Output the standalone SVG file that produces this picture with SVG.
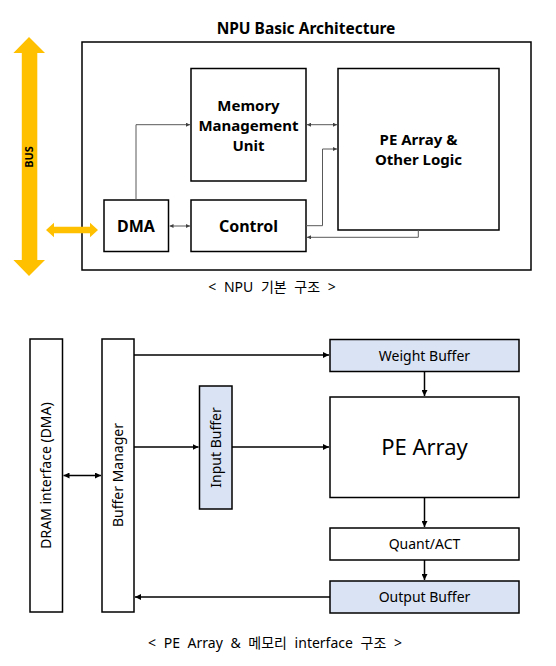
<svg xmlns="http://www.w3.org/2000/svg" width="556" height="666" viewBox="0 0 556 666">
<style>
.box{fill:#fff;stroke:#000;stroke-width:1.5}
.blue{fill:#DAE3F3;stroke:#000;stroke-width:1.5}
.g{fill:none;stroke:#595959;stroke-width:1}
.k{fill:none;stroke:#000;stroke-width:1.5}
.t{font-family:"Noto Sans","Noto Sans CJK KR",sans-serif;fill:#000}
.b{font-weight:bold}
.cap{font-size:14px;word-spacing:4px}
</style>
<defs>
<marker id="ga" viewBox="0 0 6 6" refX="6" refY="3" markerWidth="4" markerHeight="4" orient="auto-start-reverse" markerUnits="userSpaceOnUse"><path d="M0,0L6,3L0,6z" fill="#404040"/></marker>
<marker id="ka" viewBox="0 0 6 6" refX="6" refY="3" markerWidth="6" markerHeight="6" orient="auto-start-reverse" markerUnits="userSpaceOnUse"><path d="M0,0L6,3L0,6z" fill="#000"/></marker>
</defs>
<rect width="556" height="666" fill="#fff"/>
<text class="t b" x="306" y="34" font-size="15.5" text-anchor="middle">NPU Basic Architecture</text>
<rect class="box" x="82" y="42" width="449" height="228"/>
<g id="bus">
<polygon points="29,37 45,53 37.3,53 37.3,260 45,260 29,276 13.4,260 21.8,260 21.8,53 13.4,53" fill="#FFC000"/>
<text class="t b" x="0" y="0" font-size="11" text-anchor="middle" transform="translate(33,157) rotate(-90)">BUS</text>
</g>
<g id="bus-link">
<polygon points="46,230 54,222.7 54,226.7 90,226.7 90,222.7 98,230 90,237.3 90,233.3 54,233.3 54,237.3" fill="#FFC000"/>
</g>
<g id="mmu"><rect class="box" x="191" y="68.5" width="115" height="112.5"/>
<text class="t b" font-size="15" text-anchor="middle" x="248.5"><tspan x="248.5" y="111">Memory</tspan><tspan x="248.5" y="131">Management</tspan><tspan x="248.5" y="151">Unit</tspan></text></g>
<g id="pe-logic"><rect class="box" x="338" y="68.5" width="161" height="161.5"/>
<text class="t b" font-size="15" text-anchor="middle"><tspan x="418.5" y="145">PE Array &amp;</tspan><tspan x="418.5" y="165">Other Logic</tspan></text></g>
<g id="dma"><rect class="box" x="104" y="200" width="64.5" height="51.5"/>
<text class="t b" font-size="16" text-anchor="middle" x="136" y="232">DMA</text></g>
<g id="control"><rect class="box" x="191" y="200" width="115" height="51.5"/>
<text class="t b" font-size="16" text-anchor="middle" x="248.5" y="232">Control</text></g>
<g id="connectors-top">
<path class="g" d="M136,200V124.7H190" marker-end="url(#ga)"/>
<path class="g" d="M307,124.7H337" marker-start="url(#ga)" marker-end="url(#ga)"/>
<path class="g" d="M306,225.7H322.5V149H337" marker-end="url(#ga)"/>
<path class="g" d="M418.3,230V237.3H307" marker-end="url(#ga)"/>
<path class="g" d="M169.5,226H190" marker-start="url(#ga)" marker-end="url(#ga)"/>
</g>
<text class="t cap" x="272" y="292" text-anchor="middle">&lt; NPU 기본 구조 &gt;</text>
<g id="dram"><rect class="box" x="30" y="339" width="32.5" height="273"/>
<text class="t" font-size="14" text-anchor="middle" transform="translate(51,475.5) rotate(-90)">DRAM interface (DMA)</text></g>
<g id="buffer-manager"><rect class="box" x="102" y="339" width="32" height="273"/>
<text class="t" font-size="14" text-anchor="middle" transform="translate(123,475) rotate(-90)">Buffer Manager</text></g>
<g id="input-buffer"><rect class="blue" x="199.5" y="386" width="32.5" height="123"/>
<text class="t" font-size="14" text-anchor="middle" transform="translate(221,447.5) rotate(-90)">Input Buffer</text></g>
<g id="weight-buffer"><rect class="blue" x="330" y="339.5" width="189" height="32"/>
<text class="t" font-size="14" text-anchor="middle" x="424.5" y="360.5">Weight Buffer</text></g>
<g id="pe-array"><rect class="box" x="330" y="397" width="189" height="100.5"/>
<text class="t" font-size="22" text-anchor="middle" x="424.5" y="455">PE Array</text></g>
<g id="quant"><rect class="box" x="330" y="528" width="189" height="32"/>
<text class="t" font-size="14" text-anchor="middle" x="424.5" y="549">Quant/ACT</text></g>
<g id="output-buffer"><rect class="blue" x="330" y="581" width="189" height="32"/>
<text class="t" font-size="14" text-anchor="middle" x="424.5" y="602">Output Buffer</text></g>
<g id="connectors-bottom">
<path class="k" d="M134,355H329" marker-end="url(#ka)"/>
<path class="k" d="M134,447H198.5" marker-end="url(#ka)"/>
<path class="k" d="M232,447H329" marker-end="url(#ka)"/>
<path class="k" d="M63.5,475.5H101" marker-start="url(#ka)" marker-end="url(#ka)"/>
<path class="k" d="M424.5,371.5V396" marker-end="url(#ka)"/>
<path class="k" d="M424.5,497.5V527" marker-end="url(#ka)"/>
<path class="k" d="M424.5,560V580" marker-end="url(#ka)"/>
<path class="k" d="M330,597H135" marker-end="url(#ka)"/>
</g>
<text class="t cap" x="275" y="648" text-anchor="middle">&lt; PE Array &amp; 메모리 interface 구조 &gt;</text>
</svg>
